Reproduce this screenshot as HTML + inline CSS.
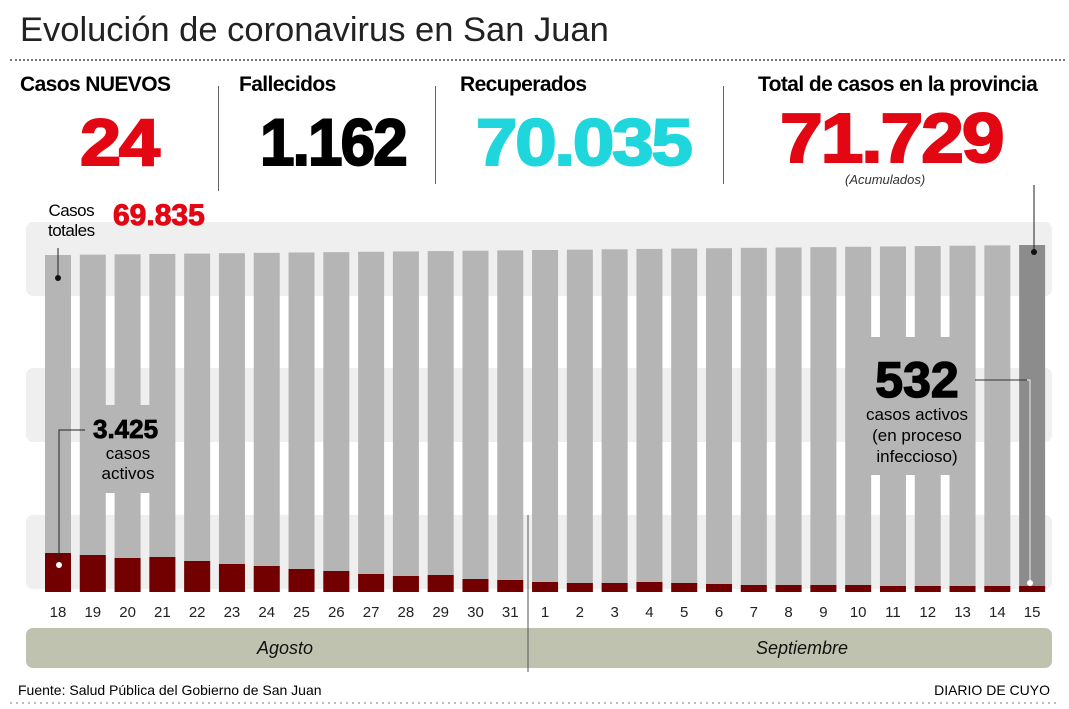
<!DOCTYPE html>
<html><head><meta charset="utf-8"><style>
body{margin:0;width:1069px;height:709px;background:#fff;font-family:"Liberation Sans",sans-serif;position:relative;overflow:hidden}
.a{position:absolute;white-space:nowrap}
.big{font-weight:900;font-size:66px;letter-spacing:-2px;transform:scaleX(1.12);transform-origin:left top;-webkit-text-stroke:2px currentColor}
.lab{font-weight:bold;font-size:21px;letter-spacing:-0.6px}
</style></head><body>
<svg class="a" style="left:0;top:0" width="1069" height="709">
<g fill="#efefef"><rect x="26" y="222" width="1026" height="74" rx="7"/><rect x="26" y="368" width="1026" height="74" rx="7"/><rect x="26" y="515" width="1026" height="74" rx="7"/></g>
<g id="bars"></g>
<rect x="80" y="405" width="95" height="88" fill="#b5b5b5"/>
<rect x="850" y="337" width="125" height="138" fill="#b5b5b5"/>
<line x1="528" y1="515" x2="528" y2="672" stroke="#555" stroke-width="1"/>
<rect x="26" y="628" width="1026" height="40" rx="7" fill="#c0c2b0"/>
<line x1="528" y1="628" x2="528" y2="672" stroke="#555"/>
<line x1="58" y1="248" x2="58" y2="278" stroke="#222"/><circle cx="58" cy="278" r="3" fill="#111"/>
<polyline points="85,430 59,430 59,565" fill="none" stroke="#222"/><circle cx="59" cy="565" r="3" fill="#fff"/>
<line x1="1034" y1="185" x2="1034" y2="252" stroke="#222"/><circle cx="1034" cy="252" r="3" fill="#111"/>
<polyline points="975,380 1030,380 1030,583" fill="none" stroke="#eee"/><line x1="975" y1="380" x2="1027" y2="380" stroke="#333"/><circle cx="1030" cy="583" r="3" fill="#fff"/>
<g id="lbl" font-family="Liberation Sans" font-size="15" fill="#222" text-anchor="middle"></g>
<text x="285" y="654" font-size="18" font-style="italic" text-anchor="middle" fill="#111" font-family="Liberation Sans">Agosto</text>
<text x="802" y="654" font-size="18" font-style="italic" text-anchor="middle" fill="#111" font-family="Liberation Sans">Septiembre</text>
<text x="93" y="438" font-size="26" font-weight="bold" fill="#000" stroke="#000" stroke-width="0.8" font-family="Liberation Sans">3.425</text>
<text x="128" y="459" font-size="17" text-anchor="middle" font-family="Liberation Sans">casos</text>
<text x="128" y="479" font-size="17" text-anchor="middle" font-family="Liberation Sans">activos</text>
<text x="917" y="397" font-size="50" font-weight="bold" text-anchor="middle" fill="#000" stroke="#000" stroke-width="1.5" font-family="Liberation Sans">532</text>
<text x="917" y="420" font-size="17" text-anchor="middle" font-family="Liberation Sans">casos activos</text>
<text x="917" y="441" font-size="17" text-anchor="middle" font-family="Liberation Sans">(en proceso</text>
<text x="917" y="462" font-size="17" text-anchor="middle" font-family="Liberation Sans">infeccioso)</text>
<text x="18" y="695" font-size="14" font-family="Liberation Sans">Fuente: Salud Pública del Gobierno de San Juan</text>
<text x="1050" y="695" font-size="14" text-anchor="end" font-family="Liberation Sans">DIARIO DE CUYO</text>
<line x1="10" y1="703" x2="1060" y2="703" stroke="#777" stroke-dasharray="2,4"/>
</svg>
<div class="a" style="left:20px;top:11px;font-size:34.5px;color:#222">Evolución de coronavirus en San Juan</div>
<div class="a" style="left:10px;top:59px;width:1055px;border-top:2px dotted #777"></div>
<div class="a lab" style="left:20px;top:73px">Casos NUEVOS</div>
<div class="a lab" style="left:239px;top:73px">Fallecidos</div>
<div class="a lab" style="left:460px;top:73px">Recuperados</div>
<div class="a lab" style="left:758px;top:73px">Total de casos en la provincia</div>
<div class="a" style="left:218px;top:86px;height:105px;border-left:1px solid #666"></div>
<div class="a" style="left:435px;top:86px;height:98px;border-left:1px solid #666"></div>
<div class="a" style="left:723px;top:86px;height:98px;border-left:1px solid #666"></div>
<div class="a big" style="left:80px;top:104px;color:#e30613">24</div>
<div class="a big" style="left:260px;top:104px;color:#000;letter-spacing:-2px;transform:scaleX(0.94)">1.162</div>
<div class="a big" style="left:476px;top:104px;color:#1fd6dc;transform:scaleX(1.13)">70.035</div>
<div class="a big" style="left:780px;top:98px;color:#e30613;font-size:70px;transform:scaleX(1.1)">71.729</div>
<div class="a" style="left:845px;top:172px;font-size:13px;font-style:italic;color:#333">(Acumulados)</div>
<div class="a" style="left:48px;top:201px;font-size:17px;line-height:20px;text-align:center;letter-spacing:-0.5px">Casos<br>totales</div>
<div class="a" style="left:113px;top:199px;font-size:30px;font-weight:900;color:#e30613;-webkit-text-stroke:1px #e30613">69.835</div>
<script>
var red=[553,555,558,557,561,564,566,569,571,574,576,575,579,580,582,583,583,582,583,584,585,585,585,585,586,586,586,586,586];
var labs=[18,19,20,21,22,23,24,25,26,27,28,29,30,31,1,2,3,4,5,6,7,8,9,10,11,12,13,14,15];
var g=document.getElementById('bars'),l=document.getElementById('lbl'),s='',t='';
for(var i=0;i<29;i++){var x=45+i*34.79,yt=255-i*10/28;
s+='<rect x="'+x+'" y="'+yt+'" width="26" height="'+(592-yt)+'" fill="'+(i==28?'#8c8c8c':'#b5b5b5')+'"/>';
s+='<rect x="'+x+'" y="'+red[i]+'" width="26" height="'+(592-red[i])+'" fill="#730000"/>';
t+='<text x="'+(x+13)+'" y="617">'+labs[i]+'</text>';}
g.innerHTML=s;l.innerHTML=t;
</script>
</body></html>
